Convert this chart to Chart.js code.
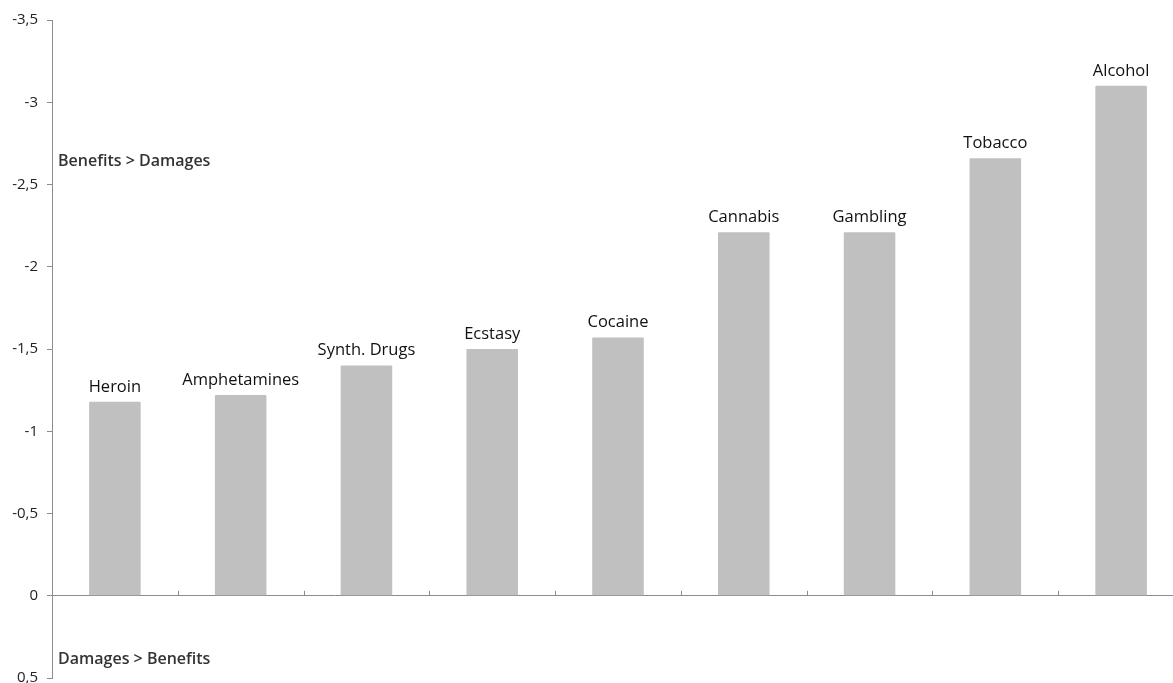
<!DOCTYPE html>
<html>
<head>
<meta charset="utf-8">
<script src="https://cdn.jsdelivr.net/npm/chart.js@4"></script>
<style>
  html, body { margin: 0; padding: 0; background: #fff; overflow: hidden; }
  #wrap { width: 1184px; height: 696px; }
</style>
</head>
<body>
<div id="wrap"><canvas id="chart"></canvas></div>
<script>
// data (negative = benefits outweigh damages)
const categories = ["Heroin", "Amphetamines", "Synth. Drugs", "Ecstasy", "Cocaine",
  "Cannabis", "Gambling", "Tobacco", "Alcohol"];
const balance = [-1.18, -1.22, -1.40, -1.50, -1.57, -2.21, -2.21, -2.66, -3.10];
const yTicks = [-3.5, -3, -2.5, -2, -1.5, -1, -0.5, 0, 0.5];
const notes = [
  { text: "Benefits > Damages", value: -2.64 },
  { text: "Damages > Benefits", value: 0.39 },
];

const axisColor = "#8c8c8c";
const textFont = "'Open Sans', 'DejaVu Sans', sans-serif";

// bar labels, side notes and small category ticks on the zero line
const extras = {
  id: "extras",
  afterDatasetsDraw(chart) {
    const { ctx, scales } = chart;
    const x = scales.x, y = scales.y;
    const meta = chart.getDatasetMeta(0);
    ctx.save();

    ctx.fillStyle = "#111";
    ctx.font = "16.5px " + textFont;
    ctx.textAlign = "center";
    ctx.textBaseline = "alphabetic";
    meta.data.forEach((bar, i) => {
      ctx.fillText(categories[i], bar.x, bar.y - 10);
    });

    ctx.font = "600 16px " + textFont;
    ctx.fillStyle = "#333";
    ctx.textAlign = "left";
    ctx.textBaseline = "middle";
    notes.forEach((n) => {
      ctx.fillText(n.text, chart.chartArea.left + 6, y.getPixelForValue(n.value));
    });

    const zero = y.getPixelForValue(0);
    ctx.strokeStyle = axisColor;
    ctx.lineWidth = 1;
    for (let i = 1; i < categories.length; i++) {
      const px = Math.round((x.getPixelForValue(i - 1) + x.getPixelForValue(i)) / 2) + 0.5;
      ctx.beginPath();
      ctx.moveTo(px, zero);
      ctx.lineTo(px, zero - 5);
      ctx.stroke();
    }
    ctx.restore();
  },
};

new Chart(document.getElementById("chart").getContext("2d"), {
  type: "bar",
  data: {
    labels: categories,
    datasets: [
      {
        data: balance,
        backgroundColor: "#c0c0c0",
        borderWidth: 0,
        borderRadius: 1,
        barPercentage: 0.41,
        categoryPercentage: 1,
      },
    ],
  },
  options: {
    responsive: true,
    maintainAspectRatio: false,
    animation: false,
    layout: { padding: { top: 20, bottom: 0, right: 0, left: 0 } },
    plugins: { legend: { display: false }, tooltip: { enabled: false } },
    scales: {
      x: { display: false },
      y: {
        reverse: true,
        min: -3.5,
        max: 0.5,
        afterFit(scale) { scale.width = 52; },
        afterBuildTicks(scale) { scale.ticks = yTicks.map((v) => ({ value: v })); },
        ticks: {
          color: "#222",
          font: { family: textFont, size: 15 },
          padding: 9,
          callback: (v) => String(v).replace(".", ","),
        },
        grid: {
          drawOnChartArea: true,
          drawTicks: true,
          tickLength: 5,
          tickColor: axisColor,
          color: (c) => (c.tick && c.tick.value === 0 ? axisColor : "transparent"),
        },
        border: { display: true, color: axisColor },
      },
    },
  },
  plugins: [extras],
});
</script>
</body>
</html>
